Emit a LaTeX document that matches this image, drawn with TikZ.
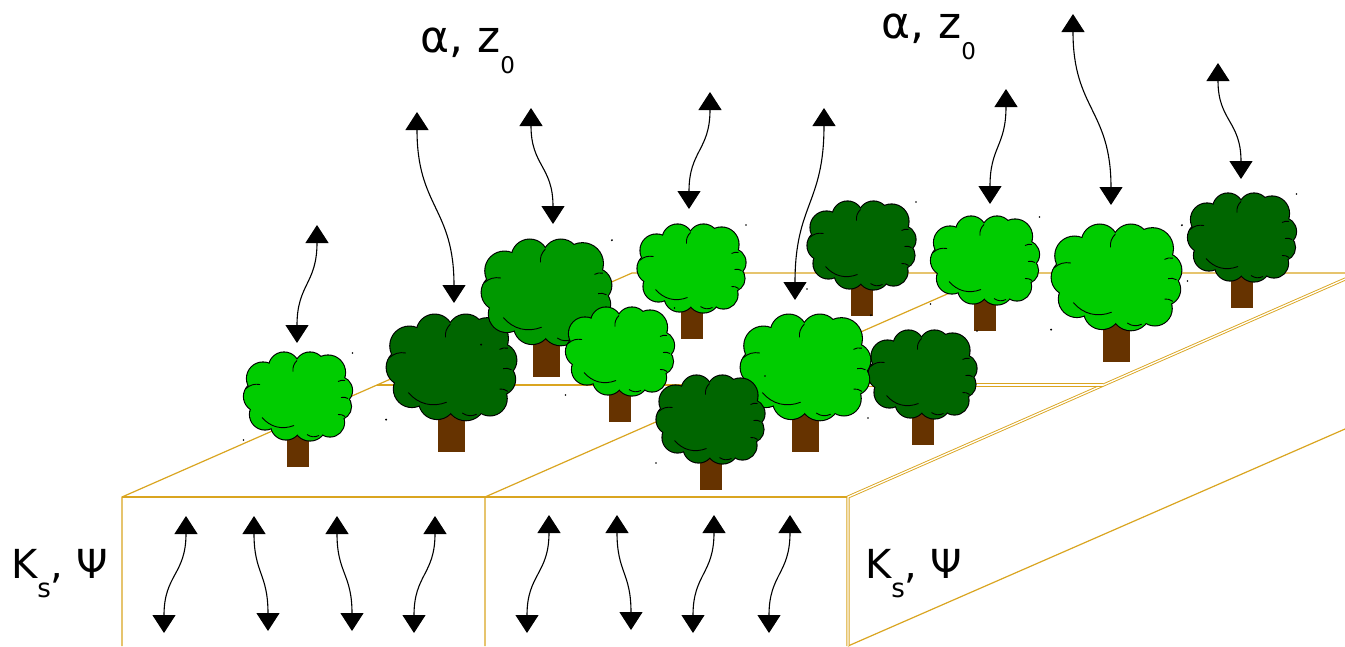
\documentclass[tikz,border=0pt]{standalone}
\usepackage{fontspec}
\setmainfont{DejaVu Sans}
\usetikzlibrary{arrows.meta}
\definecolor{leaflight}{RGB}{0,204,0}
\definecolor{leafmid}{RGB}{0,153,0}
\definecolor{leafdark}{RGB}{0,102,0}
\definecolor{bark}{RGB}{102,51,0}
\definecolor{soilline}{RGB}{218,165,32}
\tikzset{
  soil/.style={draw=soilline,line width=1.2pt},
  soildouble/.style={draw=soilline,double=white,double distance=1.3pt,line width=0.9pt},
  crownline/.style={draw=black,line width=2.2pt},
  crease/.style={draw=black,line width=0.9pt},
  flux/.style={{Triangle[width=23pt,length=18pt]}-{Triangle[width=23pt,length=18pt]},line width=1.1pt},
  lbl/.style={inner sep=0pt,anchor=base west}
}
\def\crownbumps{-14/29/15,12/29/15,-35/18/16,-39/0/15,-33/-18/15,-12/-28/15,12/-28/16,30/24/17,40/6/14,40/-10/13,32/-26/14}
\newcommand{\tree}[4]{%
  \begin{scope}[shift={(#1pt,-#2pt)},scale=#3]
    \fill[bark] (-11pt,0pt) rectangle (11pt,40pt);
    \begin{scope}[shift={(0pt,70.5pt)}]
      \foreach \bx/\by/\br in \crownbumps {\draw[crownline] (\bx pt,\by pt) circle[radius=\br pt];}
      \fill[#4] (0pt,0pt) ellipse[x radius=38pt,y radius=28pt];
      \foreach \bx/\by/\br in \crownbumps {\fill[#4] (\bx pt,\by pt) circle[radius=\br pt];}
      \draw[crease] (-36pt,-21pt) to[bend right=35] (-4pt,-29pt);
      \draw[crease] (-1pt,36pt) to[bend right=25] (-5pt,25pt);
      \draw[crease] (-52pt,8pt) to[bend left=25] (-38pt,12pt);
      \draw[crease] (9pt,-38pt) to[bend right=30] (21pt,-39pt);
      \draw[crease] (40pt,15pt) to[bend left=20] (47pt,16pt);
      \draw[crease] (43pt,-1pt) to[bend left=20] (50pt,-2pt);
      \draw[crease] (40pt,-18pt) to[bend left=20] (47pt,-20pt);
      \fill (54.5pt,43.5pt) circle[radius=0.9pt];
      \fill (-54.5pt,-43.5pt) circle[radius=0.9pt];
    \end{scope}
  \end{scope}}
\newcommand{\flux}[4]{\draw[flux] (#1pt,-#2pt) .. controls (#1pt,{-(#2+#4)/2*1pt}) and (#3pt,{-(#2+#4)/2*1pt}) .. (#3pt,-#4pt);}
\begin{document}
\begin{tikzpicture}
\useasboundingbox[fill=white] (0pt,0pt) rectangle (1345pt,-646pt);
\draw[soil] (122pt,-646pt) -- (122pt,-497pt) -- (632pt,-273pt) -- (1400pt,-273pt);
\draw[soil] (122pt,-497pt) -- (848pt,-497pt);
\draw[soil] (485pt,-646pt) -- (485pt,-497pt) -- (995pt,-273pt);
\draw[soil] (377pt,-385pt) -- (740pt,-385pt);
\draw[soil] (848pt,-646pt) -- (1400pt,-405pt);
\draw[soildouble] (848pt,-646pt) -- (848pt,-497pt) -- (1400pt,-255pt);
\draw[soildouble] (740pt,-385pt) -- (1103pt,-385pt);
\tree{1242}{308}{1}{leafdark}
\tree{861.5}{316}{1}{leafdark}
\tree{985}{331}{1}{leaflight}
\tree{691.5}{339}{1}{leaflight}
\tree{1116.5}{362}{1.2}{leaflight}
\tree{451.5}{452}{1.2}{leafdark}
\tree{546.5}{377}{1.2}{leafmid}
\tree{620}{422}{1}{leaflight}
\tree{922.5}{445}{1}{leafdark}
\tree{805.5}{452}{1.2}{leaflight}
\tree{298}{467}{1}{leaflight}
\tree{710.5}{490}{1}{leafdark}
\flux{317}{225}{297}{343}
\flux{417}{112}{454}{303}
\flux{531}{108}{553}{224}
\flux{710}{92}{689}{209}
\flux{824}{108}{795}{300}
\flux{1006}{89}{990}{204}
\flux{1073}{14}{1111}{205}
\flux{1218}{63}{1241}{179}
\flux{186}{516}{164}{633}
\flux{254}{516}{268}{631}
\flux{337}{516}{352}{631}
\flux{435}{516}{414}{633}
\flux{549}{515}{527}{633}
\flux{617}{515}{631}{630}
\flux{714}{515}{693}{633}
\flux{790}{515}{769}{633}
\node[lbl,font=\fontsize{44}{48}\selectfont] (albedoL) at (420pt,-52pt) {α, z\raisebox{-21pt}{\fontsize{23}{23}\selectfont 0}};
\node[lbl,font=\fontsize{44}{48}\selectfont] (albedoR) at (881pt,-38pt) {α, z\raisebox{-21pt}{\fontsize{23}{23}\selectfont 0}};
\node[lbl,font=\fontsize{40}{44}\selectfont] (soilL) at (11pt,-578pt) {K\raisebox{-19pt}{\fontsize{26}{26}\selectfont s}, Ψ};
\node[lbl,font=\fontsize{40}{44}\selectfont] (soilR) at (865pt,-578pt) {K\raisebox{-19pt}{\fontsize{26}{26}\selectfont s}, Ψ};
\end{tikzpicture}
\end{document}
